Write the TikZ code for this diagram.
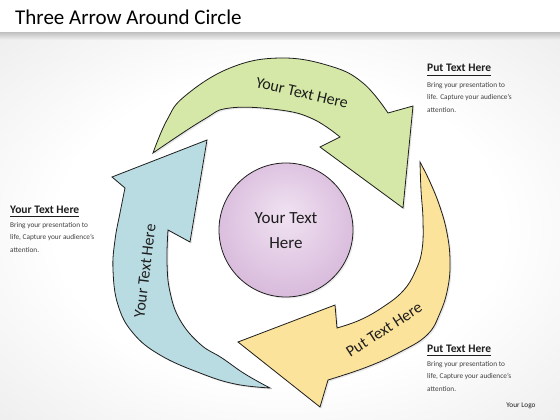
\documentclass[tikz,border=0pt]{standalone}
\usepackage{fontspec}
\setmainfont{Carlito}
\usetikzlibrary{shadows}

\definecolor{greenfill}{HTML}{D5E8A7}
\definecolor{bluefill}{HTML}{B9DBE2}
\definecolor{yellowfill}{HTML}{FCE39B}
\definecolor{ballin}{HTML}{F0E2F2}
\definecolor{ballout}{HTML}{C69BCA}
\definecolor{bgedge}{HTML}{DFDFDF}
\definecolor{inkgray}{HTML}{1E1E1E}

\pgfdeclareradialshading{purpleball}{\pgfpoint{0bp}{6bp}}{color(0bp)=(ballin); color(50bp)=(ballout)}
\pgfdeclareradialshading{backglow}{\pgfpoint{0bp}{0bp}}{color(0bp)=(white); color(20bp)=(white); color(50bp)=(bgedge)}

\tikzset{
  arrowband/.style={draw=inkgray, line width=0.8pt, line join=miter,
    drop shadow={opacity=0.18, shadow xshift=1.5pt, shadow yshift=-1.5pt}},
  bandlabel/.style={font=\fontsize{16}{18}\selectfont, text=inkgray},
  sidehead/.style={font=\bfseries\fontsize{11.5}{13}\selectfont, text=inkgray, anchor=base west, inner sep=0pt},
  sidebody/.style={font=\fontsize{7.3}{12.7}\selectfont, text=inkgray!85, align=left,
    anchor=north west, inner sep=0pt},
  sideline/.style={draw=inkgray, line width=0.6pt},
}

\begin{document}
\begin{tikzpicture}[x=1pt, y=-1pt]
    % Frame: 560 x 420, coordinates in pixels from the top left corner
    \useasboundingbox (0,0) rectangle (560,420);

    % Background and title bar
    \shade[shading=backglow] (0,38) rectangle (560,420);
    \fill[white] (0,0) rectangle (560,33);
    \shade[top color=gray!45, bottom color=gray!10] (0,33) rectangle (560,40);
    \node[anchor=base west, inner sep=0pt, font=\fontsize{21}{24}\selectfont, text=black]
        (title) at (15,25) {Three Arrow Around Circle};

    % Green arrow (top)
    \draw[arrowband, fill=greenfill]
        plot[smooth, tension=0.7] coordinates {(153,153) (167,120) (185,96) (230,68) (280,58) (330,66) (363,83) (388,113)}
        -- (413,106) -- (403,208) -- (320,147) -- (340,137)
        -- plot[smooth, tension=0.7] coordinates {(340,137) (313,119) (280,110) (230,108) (203,120) (153,153)}
        -- cycle;

    % Blue arrow (left)
    \draw[arrowband, fill=bluefill]
        plot[smooth, tension=0.7] coordinates {(270,388) (235,384) (200,373) (160,355) (133,333) (118,305) (113,270) (115,240) (120,213) (125,188)}
        -- (112,177) -- (207,140) -- (190,242) -- (168,230)
        -- plot[smooth, tension=0.7] coordinates {(168,230) (167,262) (170,292) (180,320) (200,344) (222,358) (245,374) (270,388)}
        -- cycle;

    % Yellow arrow (bottom right)
    \draw[arrowband, fill=yellowfill]
        plot[smooth, tension=0.7] coordinates {(420,162) (430,182) (440,207) (447,233) (450,260) (448,287) (440,313) (427,335) (400,352) (367,367) (328,380)}
        -- (320,407) -- (238,342) -- (335,305) -- (337,328)
        -- plot[smooth, tension=0.7] coordinates {(337,328) (360,320) (383,307) (403,291) (415,272) (422,250) (423,220) (421,190) (420,162)}
        -- cycle;

    % Labels on the arrows
    \node[bandlabel, rotate=-13] (gtext) at (302,93) {Your Text Here};
    \node[bandlabel, rotate=83] (btext) at (145,271) {Your Text Here};
    \node[bandlabel, rotate=33] (ytext) at (384,330) {Put Text Here};

    % Center ball
    \shadedraw[shading=purpleball, draw=inkgray, line width=0.8pt,
        drop shadow={opacity=0.15, shadow xshift=1.5pt, shadow yshift=-1.5pt}] (286,230) circle (67);
    \node[align=center, font=\fontsize{17}{25}\selectfont, text=inkgray] (hub) at (286,231) {Your Text\\Here};

    % Side notes
    \node[sidehead] (lhead) at (10,213) {Your Text Here};
    \draw[sideline] ([yshift=-3.5pt]lhead.base west) -- ([yshift=-3.5pt]lhead.base east);
    \node[sidebody] (lbody) at (10,222) {Bring your presentation to\\life, Capture your audience's\\attention.};

    \node[sidehead] (thead) at (427,72) {Put Text Here};
    \draw[sideline] ([yshift=-3.5pt]thead.base west) -- ([yshift=-3.5pt]thead.base east);
    \node[sidebody] (tbody) at (427,82) {Bring your presentation to\\life. Capture your audience's\\attention.};

    \node[sidehead] (bhead) at (427,352) {Put Text Here};
    \draw[sideline] ([yshift=-3.5pt]bhead.base west) -- ([yshift=-3.5pt]bhead.base east);
    \node[sidebody] (bbody) at (427,361) {Bring your presentation to\\life, Capture your audience's\\attention.};

    \node[font=\fontsize{7.3}{8}\selectfont, text=inkgray] (logo) at (521,406) {Your Logo};
\end{tikzpicture}
\end{document}
